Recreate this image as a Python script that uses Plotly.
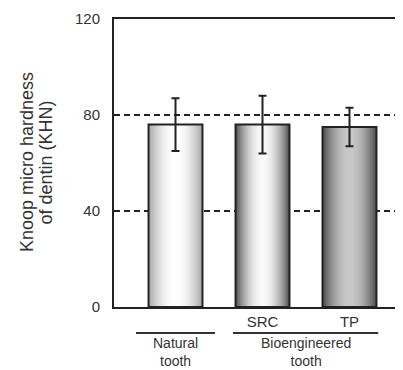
import plotly.graph_objects as go

# ---- data ----
categories = ["Natural", "SRC", "TP"]
hardness = [76, 76, 75]
hardness_err = [11, 12, 8]
y_ticks = [0, 40, 80, 120]
x_tick_text = ["", "SRC", "TP"]
group_labels = ["Natural<br>tooth", "Bioengineered<br>tooth"]
y_title_lines = ["Knoop micro hardness", "of dentin (KHN)"]

# ---- style ----
edge_grey = [168, 85, 80]
center_grey = [255, 250, 200]
BAR_W = 0.62
N_LAYERS = 24
FONT = "Liberation Sans, Arial, sans-serif"
TXT = "#333333"

xpos = list(range(len(categories)))
fig = go.Figure()

for k in range(N_LAYERS):
    d = 1 - k / N_LAYERS
    cols = []
    for e, c in zip(edge_grey, center_grey):
        v = int(round(e + (c - e) * (1 - d * d)))
        cols.append(f"rgb({v},{v},{v})")
    fig.add_trace(go.Bar(
        x=xpos, y=hardness, width=BAR_W * d,
        marker=dict(color=cols, line=dict(width=0)),
        showlegend=False, hoverinfo="skip",
    ))

fig.add_trace(go.Bar(
    x=xpos, y=hardness, width=BAR_W,
    marker=dict(color="rgba(0,0,0,0)", line=dict(color="#222222", width=2)),
    error_y=dict(type="data", array=hardness_err, color="#222222",
                 thickness=2, width=4),
    showlegend=False,
))

fig.update_layout(
    width=395, height=362,
    margin=dict(l=106, r=0, t=11, b=63),
    barmode="overlay",
    plot_bgcolor="white", paper_bgcolor="white",
    font=dict(family=FONT, size=15, color=TXT),
    xaxis=dict(
        range=[-0.707, 2.615],
        tickvals=xpos, ticktext=x_tick_text,
        showgrid=False, zeroline=False,
        showline=True, linecolor="#222222", linewidth=2,
        mirror=True, ticks="", ticklabelstandoff=0,
        tickfont=dict(size=15, color=TXT),
    ),
    yaxis=dict(
        range=[0, 120], tickvals=y_ticks,
        showgrid=True, gridcolor="#222222", gridwidth=1.5, griddash="6px,4px",
        zeroline=False,
        showline=True, linecolor="#222222", linewidth=2,
        ticks="", ticklabelstandoff=9,
        tickfont=dict(size=15, color=TXT),
    ),
)

# rotated y-axis title, two lines
for xp, txt in zip([-0.299, -0.235], y_title_lines):
    fig.add_annotation(x=xp, xref="paper", y=0.502, yref="paper", text=txt,
                       textangle=-90, showarrow=False,
                       xanchor="center", yanchor="middle",
                       font=dict(size=18, color=TXT))

# group lines and labels under the axis
group_spans = [(0 - 0.454, 0 + 0.454), (1 - 0.34, 2 + 0.33)]
for (x0, x1), lab in zip(group_spans, group_labels):
    fig.add_shape(type="line", xref="x", yref="paper", x0=x0, x1=x1,
                  y0=-0.090, y1=-0.090, line=dict(color="#333333", width=2))
    xc = (x0 + x1) / 2
    fig.add_annotation(x=xc, xref="x", y=-0.156, yref="paper", text=lab,
                       showarrow=False, yanchor="middle",
                       font=dict(size=14, color=TXT))

fig.write_html("out.html")
